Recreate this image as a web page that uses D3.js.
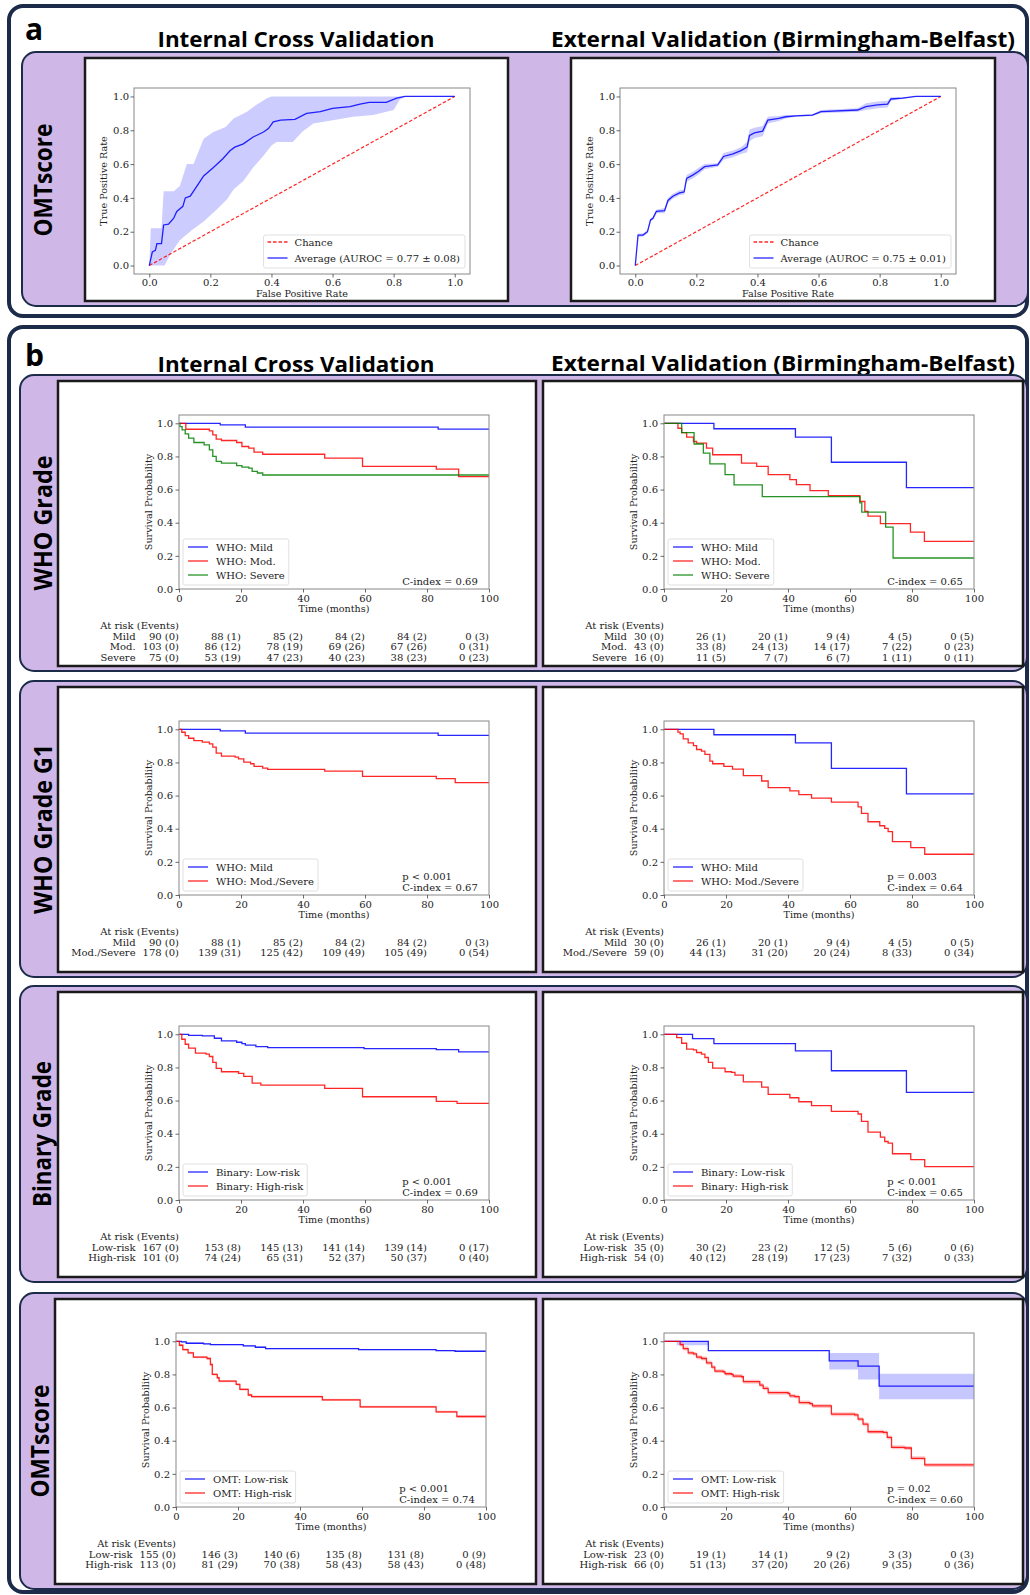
<!DOCTYPE html>
<html>
<head>
<meta charset="utf-8">
<script src="https://cdn.jsdelivr.net/npm/d3@7"></script>
<style>
  body { margin: 0; background: #fff; }
  svg text { font-family: "DejaVu Serif", serif; fill: #222; }
  svg text.hdr { font-family: "Open Sans", sans-serif; font-weight: 700; fill: #000; }
</style>
</head>
<body>
<div id="root"></div>
<script>
// ---------- ROC data (fpr, tpr) ----------
const rocTicks = [0, 0.2, 0.4, 0.6, 0.8, 1.0];

const rocIntMean = [[0, 0], [0.01, 0.08], [0.02, 0.09], [0.025, 0.13], [0.04, 0.13], [0.047, 0.24],
  [0.063, 0.245], [0.08, 0.28], [0.09, 0.32], [0.11, 0.35], [0.118, 0.40], [0.134, 0.41],
  [0.156, 0.47], [0.178, 0.53], [0.21, 0.58], [0.24, 0.63], [0.265, 0.68], [0.28, 0.70],
  [0.308, 0.72], [0.34, 0.76], [0.374, 0.79], [0.39, 0.81], [0.406, 0.85], [0.43, 0.86],
  [0.477, 0.865], [0.515, 0.90], [0.56, 0.91], [0.60, 0.93], [0.657, 0.94], [0.69, 0.955],
  [0.72, 0.965], [0.776, 0.965], [0.81, 0.99], [0.837, 1.0], [1.0, 1.0]];
const rocIntUpper = [[0, 0], [0.005, 0.22], [0.04, 0.22], [0.047, 0.44], [0.08, 0.44], [0.10, 0.47],
  [0.123, 0.60], [0.145, 0.60], [0.178, 0.75], [0.21, 0.79], [0.25, 0.82], [0.276, 0.87],
  [0.32, 0.91], [0.35, 0.95], [0.385, 0.99], [0.40, 1.0], [1.0, 1.0]];
const rocIntLower = [[0, 0], [0.05, 0], [0.07, 0.07], [0.10, 0.15], [0.14, 0.21], [0.178, 0.26],
  [0.22, 0.33], [0.254, 0.39], [0.276, 0.45], [0.308, 0.50], [0.34, 0.58], [0.374, 0.65],
  [0.40, 0.71], [0.417, 0.73], [0.47, 0.73], [0.50, 0.79], [0.537, 0.84], [0.60, 0.86],
  [0.668, 0.88], [0.733, 0.89], [0.80, 0.92], [0.82, 0.98], [0.84, 1.0], [1.0, 1.0]];

const rocExtMean = [[0, 0], [0.009, 0.18], [0.025, 0.18], [0.04, 0.2], [0.05, 0.27], [0.058, 0.28],
  [0.069, 0.32], [0.096, 0.325], [0.107, 0.385], [0.123, 0.41], [0.145, 0.43], [0.16, 0.435],
  [0.168, 0.515], [0.188, 0.535], [0.205, 0.555], [0.227, 0.585], [0.27, 0.595], [0.289, 0.645],
  [0.32, 0.66], [0.346, 0.68], [0.366, 0.70], [0.374, 0.77], [0.39, 0.785], [0.417, 0.795],
  [0.434, 0.86], [0.47, 0.87], [0.493, 0.88], [0.526, 0.885], [0.58, 0.89], [0.608, 0.91],
  [0.728, 0.92], [0.755, 0.94], [0.793, 0.95], [0.826, 0.955], [0.837, 0.985], [0.875, 0.99],
  [0.918, 1.0], [1.0, 1.0]];
const rocExtStd = [0, 0.01, 0.01, 0.01, 0.01, 0.01, 0.01, 0.015, 0.015, 0.015, 0.015, 0.015,
  0.02, 0.02, 0.02, 0.015, 0.01, 0.02, 0.02, 0.02, 0.03, 0.035, 0.03, 0.03, 0.02, 0.015, 0.01,
  0.005, 0.005, 0.01, 0.01, 0.02, 0.02, 0.02, 0.01, 0.005, 0, 0];

// ---------- Kaplan-Meier data [months, survival] ----------
const timeTicks = [0, 20, 40, 60, 80, 100];
const probTicks = [0, 0.2, 0.4, 0.6, 0.8, 1.0];

const whoIntMild = [[0, 1], [13.3, 0.99], [21.4, 0.977], [83.6, 0.965]];
const whoIntMod = [[0, 1], [2.2, 0.964], [9.8, 0.954], [10.9, 0.93], [12, 0.904], [13.7, 0.896],
  [18.6, 0.884], [20.3, 0.86], [22.5, 0.85], [24.2, 0.826], [27, 0.813], [47, 0.79], [59.2, 0.74],
  [83, 0.723], [90.2, 0.678]];
const whoIntSevere = [[0, 1], [0.3, 0.98], [1, 0.96], [2, 0.936], [3.1, 0.91], [4.8, 0.884],
  [8.1, 0.87], [9.8, 0.84], [10.9, 0.80], [12, 0.77], [13.7, 0.76], [18.6, 0.745], [20.3, 0.735],
  [22.5, 0.73], [23.6, 0.71], [25.3, 0.70], [27, 0.688]];

const whoExtMild = [[0, 1], [16.1, 0.967], [42.4, 0.917], [54, 0.765], [78.2, 0.612]];
const whoExtMod = [[0, 1], [4.5, 0.97], [5.7, 0.944], [7.3, 0.916], [9.5, 0.89], [10.5, 0.88],
  [13.7, 0.85], [15.7, 0.81], [25, 0.76], [29.9, 0.74], [33.6, 0.69], [40.6, 0.66], [42.7, 0.63],
  [47.1, 0.594], [53, 0.564], [63.2, 0.528], [64.8, 0.468], [65.8, 0.44], [69.8, 0.394],
  [79.5, 0.343], [84, 0.287]];
const whoExtSevere = [[0, 1], [5.7, 0.944], [9.7, 0.875], [12.7, 0.82], [14.8, 0.755],
  [19.7, 0.69], [22.6, 0.628], [31.7, 0.558], [63.2, 0.52], [63.8, 0.464], [71.5, 0.373],
  [73.9, 0.187]];

const g1IntMild = [[0, 1], [13.3, 0.99], [21.4, 0.977], [83.6, 0.963]];
const g1IntModSev = [[0, 1], [0.9, 0.982], [2, 0.962], [3.1, 0.946], [4.8, 0.932], [7.5, 0.922],
  [9.8, 0.912], [10.9, 0.892], [12, 0.856], [13.7, 0.838], [18.1, 0.832], [19.2, 0.822],
  [20.9, 0.802], [23.1, 0.792], [24.2, 0.776], [27, 0.766], [28.6, 0.758], [47, 0.748],
  [59.2, 0.716], [83, 0.702], [89.1, 0.678]];

const g1ExtMild = [[0, 1], [16.1, 0.967], [42.4, 0.918], [54, 0.764], [78.2, 0.61]];
const g1ExtModSev = [[0, 1], [4.5, 0.983], [5.2, 0.972], [6.2, 0.942], [7.8, 0.918], [9.5, 0.902],
  [10.5, 0.878], [12.1, 0.868], [13.2, 0.848], [14.8, 0.808], [15.7, 0.792], [19.3, 0.776],
  [22.1, 0.76], [25.6, 0.72], [31.5, 0.688], [33.6, 0.648], [40.6, 0.628], [43.5, 0.606],
  [47.6, 0.584], [54, 0.56], [62.6, 0.532], [63.7, 0.492], [65.8, 0.442], [69.6, 0.418],
  [71.2, 0.402], [72.3, 0.382], [73.7, 0.322], [79.6, 0.286], [84.1, 0.246]];

const binIntLow = [[0, 1], [3.1, 0.994], [7.5, 0.99], [11.4, 0.976], [13.7, 0.96], [18.6, 0.952],
  [20.3, 0.944], [21.4, 0.934], [24.8, 0.926], [28.6, 0.92], [59.7, 0.914], [83, 0.908],
  [90.2, 0.894]];
const binIntHigh = [[0, 1], [0.9, 0.97], [2, 0.94], [3.1, 0.916], [5.3, 0.886], [8.7, 0.88],
  [9.8, 0.866], [10.9, 0.83], [12, 0.794], [13.7, 0.774], [19.2, 0.764], [20.9, 0.746],
  [23.6, 0.705], [26.4, 0.693], [47, 0.673], [59.2, 0.623], [83, 0.595], [89.7, 0.583]];

const binExtLow = [[0, 1], [9.2, 0.974], [16.1, 0.944], [42.4, 0.90], [54, 0.78], [78.2, 0.65]];
const binExtHigh = [[0, 1], [4.1, 0.98], [5.7, 0.946], [7.3, 0.91], [9.5, 0.906], [10.5, 0.89],
  [12.1, 0.88], [13.2, 0.86], [14.3, 0.83], [15.7, 0.796], [19.7, 0.774], [21.8, 0.77],
  [22.9, 0.754], [25.6, 0.713], [31.5, 0.681], [33.6, 0.637], [40.6, 0.617], [43.5, 0.593],
  [47.6, 0.57], [54, 0.535], [62.6, 0.519], [63.7, 0.475], [65.8, 0.41], [69.8, 0.379],
  [71.2, 0.353], [72.3, 0.343], [73.7, 0.279], [79.6, 0.244], [84.1, 0.202]];

const omtIntLow = [[0, 1], [1.7, 0.996], [3.3, 0.988], [8.9, 0.984], [11.1, 0.98], [21.7, 0.972],
  [25.6, 0.964], [28.9, 0.956], [58.9, 0.95], [83.9, 0.944], [90, 0.94]];
const omtIntHigh = [[0, 1], [1.1, 0.976], [2.2, 0.95], [3.9, 0.93], [5.6, 0.904], [10, 0.896],
  [11.1, 0.86], [11.7, 0.80], [13.3, 0.78], [13.9, 0.76], [19.4, 0.74], [20.6, 0.71],
  [23.3, 0.676], [24.4, 0.666], [47.2, 0.646], [59.4, 0.604], [83.9, 0.574], [90.6, 0.546]];
const omtIntLowCi = 0.004;
const omtIntHighCi = 0.007;

const omtExtLow = [[0, 1], [14.3, 0.944], [53.3, 0.882], [62.6, 0.85], [69.4, 0.73]];
// [months, lower, upper]
const omtExtLowBand = [[0, 1, 1], [4.1, 0.976, 1], [14.3, 0.944, 0.944], [53.3, 0.83, 0.93],
  [62.6, 0.77, 0.93], [69.4, 0.65, 0.804]];
const omtExtHigh = [[0, 1], [5.2, 0.98], [6.2, 0.956], [7.8, 0.93], [9.5, 0.924], [10.5, 0.904],
  [12.1, 0.896], [13.7, 0.87], [15.4, 0.844], [16.4, 0.82], [19.1, 0.816], [19.7, 0.804],
  [21.8, 0.80], [22.3, 0.79], [25, 0.786], [25.6, 0.756], [30.9, 0.736], [32, 0.716],
  [33.6, 0.69], [40, 0.686], [40.6, 0.67], [42.2, 0.666], [43.6, 0.63], [47, 0.624],
  [47.9, 0.61], [54, 0.56], [61.5, 0.556], [62.6, 0.53], [64.2, 0.50], [65.8, 0.454],
  [70.7, 0.45], [72, 0.42], [73.4, 0.36], [77.7, 0.356], [79.8, 0.294], [84.1, 0.254]];
const omtExtHighCi = 0.012;

// ---------- at-risk tables: label, then counts at 0, 20, ... 100 ----------
const whoIntRisk = [
  ['Mild', '90 (0)', '88 (1)', '85 (2)', '84 (2)', '84 (2)', '0 (3)'],
  ['Mod.', '103 (0)', '86 (12)', '78 (19)', '69 (26)', '67 (26)', '0 (31)'],
  ['Severe', '75 (0)', '53 (19)', '47 (23)', '40 (23)', '38 (23)', '0 (23)']];
const whoExtRisk = [
  ['Mild', '30 (0)', '26 (1)', '20 (1)', '9 (4)', '4 (5)', '0 (5)'],
  ['Mod.', '43 (0)', '33 (8)', '24 (13)', '14 (17)', '7 (22)', '0 (23)'],
  ['Severe', '16 (0)', '11 (5)', '7 (7)', '6 (7)', '1 (11)', '0 (11)']];
const g1IntRisk = [
  ['Mild', '90 (0)', '88 (1)', '85 (2)', '84 (2)', '84 (2)', '0 (3)'],
  ['Mod./Severe', '178 (0)', '139 (31)', '125 (42)', '109 (49)', '105 (49)', '0 (54)']];
const g1ExtRisk = [
  ['Mild', '30 (0)', '26 (1)', '20 (1)', '9 (4)', '4 (5)', '0 (5)'],
  ['Mod./Severe', '59 (0)', '44 (13)', '31 (20)', '20 (24)', '8 (33)', '0 (34)']];
const binIntRisk = [
  ['Low-risk', '167 (0)', '153 (8)', '145 (13)', '141 (14)', '139 (14)', '0 (17)'],
  ['High-risk', '101 (0)', '74 (24)', '65 (31)', '52 (37)', '50 (37)', '0 (40)']];
const binExtRisk = [
  ['Low-risk', '35 (0)', '30 (2)', '23 (2)', '12 (5)', '5 (6)', '0 (6)'],
  ['High-risk', '54 (0)', '40 (12)', '28 (19)', '17 (23)', '7 (32)', '0 (33)']];
const omtIntRisk = [
  ['Low-risk', '155 (0)', '146 (3)', '140 (6)', '135 (8)', '131 (8)', '0 (9)'],
  ['High-risk', '113 (0)', '81 (29)', '70 (38)', '58 (43)', '58 (43)', '0 (48)']];
const omtExtRisk = [
  ['Low-risk', '23 (0)', '19 (1)', '14 (1)', '9 (2)', '3 (3)', '0 (3)'],
  ['High-risk', '66 (0)', '51 (13)', '37 (20)', '20 (26)', '9 (35)', '0 (36)']];

const colTitles = ['Internal Cross Validation', 'External Validation (Birmingham-Belfast)'];
const rowTitles = ['WHO Grade', 'WHO Grade G1', 'Binary Grade', 'OMTscore'];

// ---------- layout ----------
const W = 1030, H = 1595;
const navy = '#1c2b4a', lilac = '#cfb8e7';
const rocW = 336, rocH = 186;
const kmW = 310, kmH = 174;

const svg = d3.select('#root').append('svg')
  .attr('width', W).attr('height', H)
  .attr('viewBox', `0 0 ${W} ${H}`);

function frame(x, y, w, h, opts) {
  svg.append('rect')
    .attr('x', x).attr('y', y).attr('width', w).attr('height', h)
    .attr('rx', opts.rx || 0)
    .attr('fill', opts.fill)
    .attr('stroke', opts.stroke)
    .attr('stroke-width', opts.sw);
}

function header(text, x, y, size, len, rotate) {
  const t = svg.append('text').attr('class', 'hdr')
    .attr('font-size', size)
    .attr('text-anchor', len ? 'middle' : 'start')
    .text(text);
  if (len) t.attr('textLength', len).attr('lengthAdjust', 'spacingAndGlyphs');
  if (rotate) t.attr('transform', `translate(${x},${y}) rotate(-90)`);
  else t.attr('x', x).attr('y', y);
}

function styleAxis(sel) {
  sel.select('.domain').remove();
  sel.selectAll('.tick line').attr('stroke', '#444').attr('stroke-width', 0.8);
  sel.selectAll('.tick text').attr('font-size', 10).attr('fill', '#222')
    .attr('font-family', '"DejaVu Serif", serif');
}

// ---------- ROC ----------
function drawROC(bx, by, mean, upper, lower, label) {
  const g = svg.append('g').attr('transform', `translate(${bx + 49},${by + 30})`);
  const x = d3.scaleLinear().domain([-0.05, 1.05]).range([0, rocW]);
  const y = d3.scaleLinear().domain([-0.05, 1.05]).range([rocH, 0]);
  const line = d3.line().x(d => x(d[0])).y(d => y(d[1]));

  g.append('path')
    .attr('d', line(upper.concat(lower.slice().reverse())) + 'Z')
    .attr('fill', 'blue').attr('fill-opacity', 0.2);
  g.append('path').attr('d', line([[0, 0], [1, 1]]))
    .attr('fill', 'none').attr('stroke', 'red').attr('stroke-opacity', 0.85)
    .attr('stroke-width', 1.2).attr('stroke-dasharray', '3.5,2');
  g.append('path').attr('d', line(mean))
    .attr('fill', 'none').attr('stroke', 'blue').attr('stroke-opacity', 0.85)
    .attr('stroke-width', 1.3);

  g.append('rect').attr('width', rocW).attr('height', rocH)
    .attr('fill', 'none').attr('stroke', '#888').attr('stroke-width', 1);

  const fmt = d3.format('.1f');
  g.append('g').attr('transform', `translate(0,${rocH})`)
    .call(d3.axisBottom(x).tickValues(rocTicks).tickFormat(fmt).tickSize(3.5).tickPadding(1.5))
    .call(styleAxis);
  g.append('g')
    .call(d3.axisLeft(y).tickValues(rocTicks).tickFormat(fmt).tickSize(3.5).tickPadding(1.5))
    .call(styleAxis);

  g.append('text').attr('x', rocW / 2).attr('y', rocH + 23)
    .attr('text-anchor', 'middle').attr('font-size', 9.6).text('False Positive Rate');
  g.append('text').attr('transform', `translate(-27,${rocH / 2}) rotate(-90)`)
    .attr('text-anchor', 'middle').attr('font-size', 9.6).text('True Positive Rate');

  // legend, lower right
  const lg = g.append('g');
  const items = [
    { text: 'Chance', color: 'red', dash: '3.5,2' },
    { text: label, color: 'blue', dash: null }];
  const texts = items.map((d, i) => lg.append('text')
    .attr('x', 31).attr('y', 7 + 16 * i).attr('dy', '0.35em')
    .attr('font-size', 10).text(d.text));
  const tw = d3.max(texts, t => t.node().getComputedTextLength());
  const boxW = 31 + tw + 5, boxH = 33;
  lg.insert('rect', 'text').attr('width', boxW).attr('height', boxH).attr('rx', 2)
    .attr('fill', 'white').attr('fill-opacity', 0.8)
    .attr('stroke', '#d8d8d8').attr('stroke-width', 0.8);
  items.forEach((d, i) => {
    lg.append('line').attr('x1', 4).attr('x2', 24)
      .attr('y1', 7 + 16 * i).attr('y2', 7 + 16 * i)
      .attr('stroke', d.color).attr('stroke-opacity', 0.85).attr('stroke-width', 1.3)
      .attr('stroke-dasharray', d.dash);
  });
  lg.attr('transform', `translate(${rocW - 5 - boxW},${rocH - 6 - boxH})`);
}

// ---------- Kaplan-Meier ----------
function drawKM(bx, by, p) {
  const g = svg.append('g').attr('transform', `translate(${bx + 121},${by + 34})`);
  const x = d3.scaleLinear().domain([0, 100]).range([0, kmW]);
  const y = d3.scaleLinear().domain([0, 1.05]).range([kmH, 0]);
  const step = d3.line().x(d => x(d[0])).y(d => y(d[1])).curve(d3.curveStepAfter);
  const band = d3.area().x(d => x(d[0])).y0(d => y(d[1])).y1(d => y(d[2]))
    .curve(d3.curveStepAfter);

  p.curves.forEach(c => {
    let b = null;
    if (c.band) b = c.band;
    else if (c.ci) b = c.pts.map(q => [q[0], q[1] === 1 ? 1 : q[1] - c.ci, Math.min(1, q[1] + c.ci)]);
    if (b) {
      b = b.concat([[100, b[b.length - 1][1], b[b.length - 1][2]]]);
      g.append('path').attr('d', band(b))
        .attr('fill', c.color).attr('fill-opacity', 0.22);
    }
    const pts = c.pts.concat([[100, c.pts[c.pts.length - 1][1]]]);
    g.append('path').attr('d', step(pts))
      .attr('fill', 'none').attr('stroke', c.color).attr('stroke-opacity', 0.85)
      .attr('stroke-width', 1.3);
  });

  g.append('rect').attr('width', kmW).attr('height', kmH)
    .attr('fill', 'none').attr('stroke', '#888').attr('stroke-width', 1);

  g.append('g').attr('transform', `translate(0,${kmH})`)
    .call(d3.axisBottom(x).tickValues(timeTicks).tickFormat(d3.format('d')).tickSize(3.5).tickPadding(2.5))
    .call(styleAxis);
  g.append('g')
    .call(d3.axisLeft(y).tickValues(probTicks).tickFormat(d3.format('.1f')).tickSize(3.5).tickPadding(2.5))
    .call(styleAxis);

  g.append('text').attr('x', kmW / 2).attr('y', kmH + 23)
    .attr('text-anchor', 'middle').attr('font-size', 9.6).text('Time (months)');
  g.append('text').attr('transform', `translate(-27,${kmH / 2}) rotate(-90)`)
    .attr('text-anchor', 'middle').attr('font-size', 9.6).text('Survival Probability');

  // legend, lower left
  const lg = g.append('g');
  const texts = p.curves.map((c, i) => lg.append('text')
    .attr('x', 33).attr('y', 8 + 14 * i).attr('dy', '0.35em')
    .attr('font-size', 10).text(c.label));
  const tw = d3.max(texts, t => t.node().getComputedTextLength());
  const boxH = p.curves.length * 14 + 4;
  lg.insert('rect', 'text').attr('width', 33 + tw + 4).attr('height', boxH).attr('rx', 2)
    .attr('fill', 'white').attr('fill-opacity', 0.8)
    .attr('stroke', '#d8d8d8').attr('stroke-width', 0.8);
  p.curves.forEach((c, i) => {
    lg.append('line').attr('x1', 5).attr('x2', 25)
      .attr('y1', 8 + 14 * i).attr('y2', 8 + 14 * i)
      .attr('stroke', c.color).attr('stroke-opacity', 0.85).attr('stroke-width', 1.3);
  });
  lg.attr('transform', `translate(4,${kmH - 4 - boxH})`);

  // p-value / C-index
  p.stats.forEach((s, i) => {
    g.append('text').attr('x', kmW * 0.72)
      .attr('y', kmH - 4 - 11 * (p.stats.length - 1 - i))
      .attr('font-size', 10).text(s);
  });

  // at-risk table
  const ty = kmH + 40, rowStep = 10.7;
  g.append('text').attr('x', 0).attr('y', ty).attr('text-anchor', 'end')
    .attr('font-size', 10).text('At risk (Events)');
  const firstCol = p.risk.map((r, i) => g.append('text')
    .attr('x', x(timeTicks[0])).attr('y', ty + rowStep * (i + 1))
    .attr('text-anchor', 'end').attr('font-size', 10).text(r[1]));
  const fw = d3.max(firstCol, t => t.node().getComputedTextLength());
  p.risk.forEach((r, i) => {
    const yy = ty + rowStep * (i + 1);
    g.append('text').attr('x', -fw - 7).attr('y', yy)
      .attr('text-anchor', 'end').attr('font-size', 10).text(r[0]);
    timeTicks.slice(1).forEach((t, j) => {
      g.append('text').attr('x', x(t)).attr('y', yy)
        .attr('text-anchor', 'end').attr('font-size', 10).text(r[j + 2]);
    });
  });
}

// ---------- panel a ----------
frame(9, 6, 1018, 310, { rx: 14, fill: 'white', stroke: navy, sw: 4 });
header('a', 25, 40, 30);
header(colTitles[0], 296, 47, 22, 277);
header(colTitles[1], 783, 47, 21, 464);
frame(22, 52, 1006, 254, { rx: 14, fill: lilac, stroke: navy, sw: 2 });
header('OMTscore', 52, 180, 25, 113, true);
frame(85, 58, 423, 243, { fill: 'white', stroke: '#1a1a1a', sw: 2.5 });
frame(571, 58, 424, 243, { fill: 'white', stroke: '#1a1a1a', sw: 2.5 });

const rocExtUpper = rocExtMean.map((q, i) => [q[0], Math.min(1, q[1] + rocExtStd[i])]);
const rocExtLower = rocExtMean.map((q, i) => [q[0], Math.max(0, q[1] - rocExtStd[i])]);
drawROC(85, 58, rocIntMean, rocIntUpper, rocIntLower, 'Average (AUROC = 0.77 \u00b1 0.08)');
drawROC(571, 58, rocExtMean, rocExtUpper, rocExtLower, 'Average (AUROC = 0.75 \u00b1 0.01)');

// ---------- panel b ----------
frame(9, 327, 1018, 1265, { rx: 14, fill: 'white', stroke: navy, sw: 4 });
header('b', 25, 366, 30);
header(colTitles[0], 296, 372, 22, 277);
header(colTitles[1], 783, 371, 21, 464);

const rowTop = [381, 687, 992, 1299];
const leftBoxX = [58, 58, 58, 55];
const rightBoxX = 543;
const rowTitleX = [52, 52, 51, 49];
const rowTitleLen = [135, 170, 146, 113];

const kmPanels = [
  [
    { curves: [
      { pts: whoIntMild, color: 'blue', label: 'WHO: Mild' },
      { pts: whoIntMod, color: 'red', label: 'WHO: Mod.' },
      { pts: whoIntSevere, color: 'green', label: 'WHO: Severe' }],
      risk: whoIntRisk, stats: ['C-index = 0.69'] },
    { curves: [
      { pts: whoExtMild, color: 'blue', label: 'WHO: Mild' },
      { pts: whoExtMod, color: 'red', label: 'WHO: Mod.' },
      { pts: whoExtSevere, color: 'green', label: 'WHO: Severe' }],
      risk: whoExtRisk, stats: ['C-index = 0.65'] }],
  [
    { curves: [
      { pts: g1IntMild, color: 'blue', label: 'WHO: Mild' },
      { pts: g1IntModSev, color: 'red', label: 'WHO: Mod./Severe' }],
      risk: g1IntRisk, stats: ['p < 0.001', 'C-index = 0.67'] },
    { curves: [
      { pts: g1ExtMild, color: 'blue', label: 'WHO: Mild' },
      { pts: g1ExtModSev, color: 'red', label: 'WHO: Mod./Severe' }],
      risk: g1ExtRisk, stats: ['p = 0.003', 'C-index = 0.64'] }],
  [
    { curves: [
      { pts: binIntLow, color: 'blue', label: 'Binary: Low-risk' },
      { pts: binIntHigh, color: 'red', label: 'Binary: High-risk' }],
      risk: binIntRisk, stats: ['p < 0.001', 'C-index = 0.69'] },
    { curves: [
      { pts: binExtLow, color: 'blue', label: 'Binary: Low-risk' },
      { pts: binExtHigh, color: 'red', label: 'Binary: High-risk' }],
      risk: binExtRisk, stats: ['p < 0.001', 'C-index = 0.65'] }],
  [
    { curves: [
      { pts: omtIntLow, color: 'blue', label: 'OMT: Low-risk', ci: omtIntLowCi },
      { pts: omtIntHigh, color: 'red', label: 'OMT: High-risk', ci: omtIntHighCi }],
      risk: omtIntRisk, stats: ['p < 0.001', 'C-index = 0.74'] },
    { curves: [
      { pts: omtExtLow, color: 'blue', label: 'OMT: Low-risk', band: omtExtLowBand },
      { pts: omtExtHigh, color: 'red', label: 'OMT: High-risk', ci: omtExtHighCi }],
      risk: omtExtRisk, stats: ['p = 0.02', 'C-index = 0.60'] }]
];

rowTop.forEach((top, r) => {
  frame(20, top - 6, 1007, 296, { rx: 14, fill: lilac, stroke: navy, sw: 2 });
  header(rowTitles[r], rowTitleX[r], top + 142, 25, rowTitleLen[r], true);
  frame(leftBoxX[r], top, 536 - leftBoxX[r], 285, { fill: 'white', stroke: '#1a1a1a', sw: 2.5 });
  frame(rightBoxX, top, 480, 285, { fill: 'white', stroke: '#1a1a1a', sw: 2.5 });
  drawKM(leftBoxX[r], top, kmPanels[r][0]);
  drawKM(rightBoxX, top, kmPanels[r][1]);
});
</script>
</body>
</html>
